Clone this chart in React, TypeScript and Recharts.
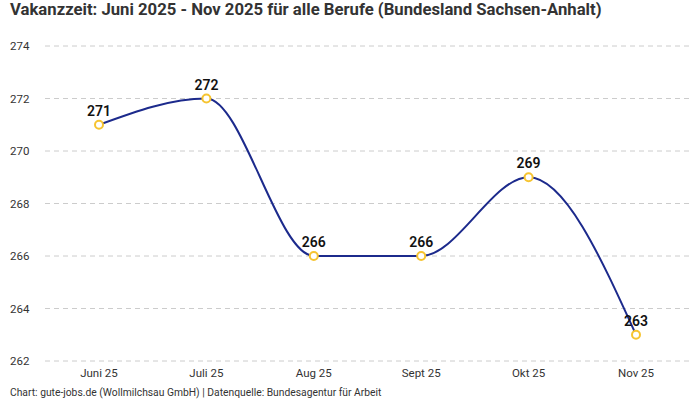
import React from "react";
import { LineChart, Line, XAxis, YAxis, CartesianGrid, LabelList } from "recharts";

const months = ["Juni 25", "Juli 25", "Aug 25", "Sept 25", "Okt 25", "Nov 25"];
const values = [271, 272, 266, 266, 269, 263];
const yTicks = [262, 264, 266, 268, 270, 272, 274];

const data = months.map((m, i) => ({ month: m, value: values[i] }));

const FONT = "Roboto, 'Noto Sans', sans-serif";

const YTick = (props: any) => {
  const { y, payload } = props;
  return (
    <text x={10} y={y} dy={4} textAnchor="start" fontSize={11.5} fill="#333" fontFamily={FONT}>
      {payload.value}
    </text>
  );
};

export default function App() {
  return (
    <div style={{ position: "absolute", left: 0, top: 0, width: 700, height: 400, background: "#fff", fontFamily: FONT }}>
      <div style={{ position: "absolute", left: 10, top: 0, fontSize: 16.7, fontWeight: 700, color: "#333", lineHeight: "20px" }}>
        Vakanzzeit: Juni 2025 - Nov 2025 für alle Berufe (Bundesland Sachsen-Anhalt)
      </div>
      <LineChart width={700} height={400} data={data} margin={{ top: 46, right: 10, bottom: 14, left: 10 }}>
        <CartesianGrid vertical={false} stroke="#ccc" strokeDasharray="5 4" />
        <XAxis
          dataKey="month"
          axisLine={false}
          tickLine={false}
          height={25}
          padding={{ left: 54, right: 54 }}
          tick={{ fontSize: 11.5, fill: "#333", fontFamily: FONT }}
        />
        <YAxis
          domain={[262, 274]}
          ticks={yTicks}
          axisLine={false}
          tickLine={false}
          width={35}
          tick={<YTick />}
        />
        <Line
          type="monotone"
          dataKey="value"
          stroke="#1c2a8c"
          strokeWidth={2}
          dot={{ r: 4, fill: "#fff", stroke: "#f6c431", strokeWidth: 2 }}
          isAnimationActive={false}
        >
          <LabelList dataKey="value" position="top" offset={9} fontSize={14} fontWeight={600} fill="#111" fontFamily={FONT} />
        </Line>
      </LineChart>
      <div style={{ position: "absolute", left: 10, top: 387, fontSize: 10.3, color: "#333", lineHeight: "12px" }}>
        Chart: gute-jobs.de (Wollmilchsau GmbH) | Datenquelle: Bundesagentur für Arbeit
      </div>
    </div>
  );
}
